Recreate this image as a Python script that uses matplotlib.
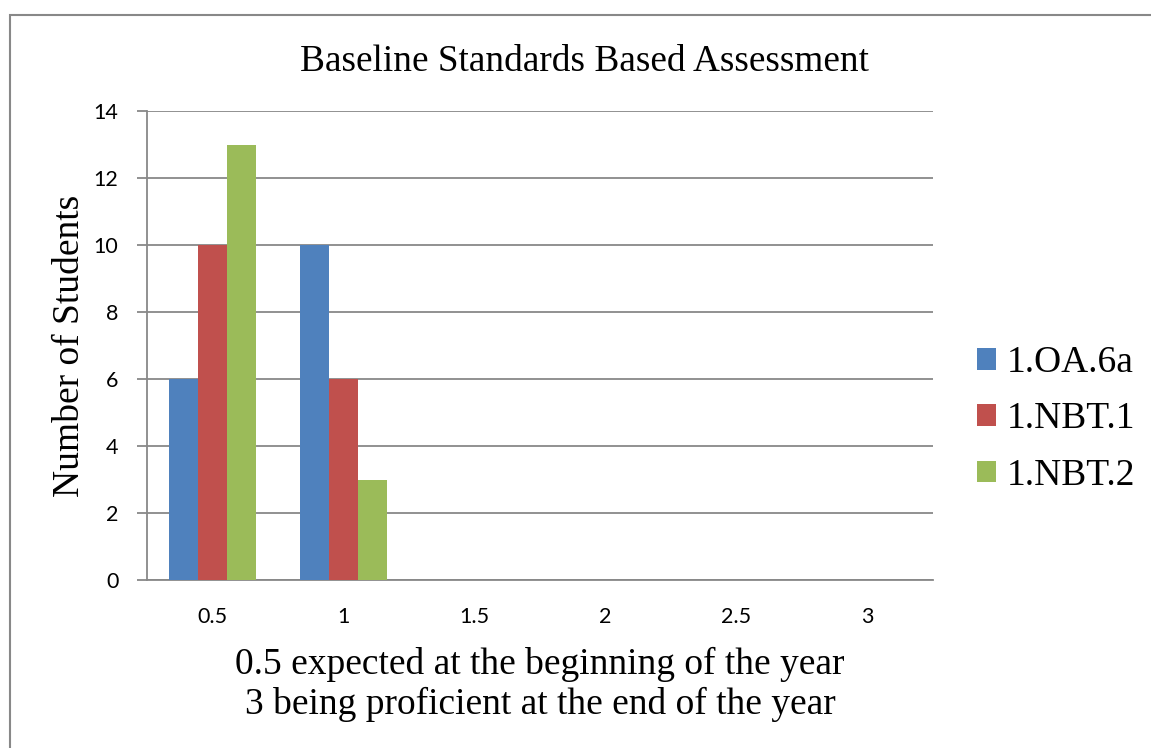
import matplotlib.pyplot as plt
import numpy as np
from matplotlib.patches import Rectangle

# Data setup
levels = ['0.5', '1', '1.5', '2', '2.5', '3']
series_names = ['1.OA.6a', '1.NBT.1', '1.NBT.2']
oa_6a = [6, 10, 0, 0, 0, 0]
nbt_1 = [10, 6, 0, 0, 0, 0]
nbt_2 = [13, 3, 0, 0, 0, 0]
colors = ['#4F81BD', '#C0504D', '#9BBB59']

x = np.arange(len(levels))
bar_width = 0.22

fig = plt.figure(figsize=(11.51, 7.48), dpi=100)
ax = fig.add_axes([0.1277, 0.2246, 0.6829, 0.627])

for i, (name, vals) in enumerate(zip(series_names, [oa_6a, nbt_1, nbt_2])):
    ax.bar(x + (i - 1) * bar_width, vals, bar_width, label=name,
           color=colors[i], zorder=3)

ax.set_xlim(-0.5, len(levels) - 0.5)
ax.set_ylim(0, 14)
ax.set_yticks(range(0, 15, 2))
ax.set_xticks(x)
ax.set_xticklabels(levels)
ax.grid(axis='y', color='#888888', linewidth=1.3, zorder=0)
ax.tick_params(axis='y', length=7, color='#888888', width=1.3, pad=13.5)
ax.tick_params(axis='x', length=0, pad=19.5)
for lbl in ax.get_xticklabels() + ax.get_yticklabels():
    lbl.set_fontfamily('Lato')
    lbl.set_fontsize(15.5)
for s in ['top', 'right']:
    ax.spines[s].set_visible(False)
ax.spines['left'].set_color('#888888')
ax.spines['left'].set_linewidth(1.3)
ax.spines['bottom'].set_color('#888888')
ax.spines['bottom'].set_linewidth(1.3)

serif = 'Liberation Serif'
ax.set_title('Baseline Standards Based Assessment', fontfamily=serif,
             fontsize=26.8, pad=29, x=0.557)
ax.set_ylabel('Number of Students', fontfamily=serif, fontsize=27, labelpad=5)
ax.set_xlabel('0.5 expected at the beginning of the year\n3 being proficient at the end of the year',
              fontfamily=serif, fontsize=27, labelpad=14, linespacing=1.2)

ax.legend(loc='center left', bbox_to_anchor=(1.056, 0.343), frameon=False,
          prop={'family': serif, 'size': 27}, borderpad=0, borderaxespad=0,
          handlelength=0.5, handleheight=0.5, handletextpad=0.29,
          labelspacing=0.58)

fig.patches.append(Rectangle((10 / 1151, -0.1), 1.2, 1 - 15 / 748 + 0.1,
                             transform=fig.transFigure, fill=False,
                             edgecolor='#888888', linewidth=1.5))

fig.savefig('out.png', dpi=100)
